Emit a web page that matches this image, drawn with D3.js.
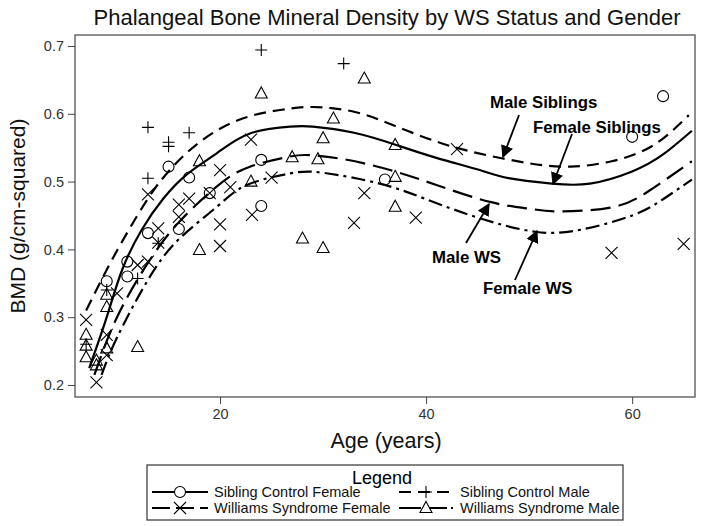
<!DOCTYPE html>
<html><head><meta charset="utf-8">
<script src="https://cdn.jsdelivr.net/npm/d3@7"></script>
<style>body{margin:0;background:#fff}svg{display:block;font-family:"Liberation Sans",Arial,sans-serif}</style>
</head><body><svg id="c" width="704" height="526"></svg>
<script>
// ---- data ----
const sibFemaleAge = [9,11,11,13,15,16,17,19,24,24,36,60,63];
const sibFemaleBMD = [0.353,0.382,0.36,0.424,0.522,0.43,0.506,0.483,0.532,0.464,0.503,0.566,0.626];
const sibMaleAge = [7,9,12,13,13,14,15,15,17,24,32];
const sibMaleBMD = [0.26,0.34,0.357,0.505,0.58,0.409,0.558,0.552,0.572,0.694,0.674];
const wsFemaleAge = [7,8,9,9,10,12,13,13,14,14,16,16,17,19,20,20,20,21,23,23.1,25,33,34,39,43,58,65];
const wsFemaleBMD = [0.296,0.204,0.274,0.244,0.335,0.377,0.481,0.382,0.431,0.41,0.466,0.448,0.475,0.483,0.517,0.437,0.405,0.492,0.562,0.451,0.506,0.439,0.483,0.447,0.548,0.395,0.408];
const wsMaleAge = [7,7,7,8,8,9,9,9,12,18,18,23,24,27,28,29.5,30,30,31,34,37,37,37];
const wsMaleBMD = [0.274,0.258,0.241,0.236,0.229,0.333,0.315,0.254,0.256,0.53,0.399,0.5,0.63,0.536,0.416,0.533,0.564,0.402,0.593,0.652,0.554,0.507,0.463];

// fitted curves
const fitMaleSibAge = [7,9,11,13,15,18,22,26,29,33,37,41,45,50,54,58,62,65.5];
const fitMaleSibBMD = [0.31,0.37,0.425,0.475,0.515,0.558,0.592,0.606,0.61,0.603,0.582,0.559,0.542,0.527,0.522,0.53,0.553,0.598];
const fitFemaleSibAge = [7.3,9,10.5,12.4,14.5,16.9,19.7,22.9,26.8,29,33,37.1,41,45.2,48,52.2,55.9,60,63,65.8];
const fitFemaleSibBMD = [0.225,0.3,0.37,0.429,0.475,0.512,0.542,0.571,0.581,0.581,0.572,0.554,0.535,0.517,0.505,0.497,0.497,0.515,0.54,0.575];
const fitMaleWSAge = [7.8,10,13,16,19.7,22.9,26.8,28.7,32,36.5,41,46.2,50,53,58,61.5,65.8];
const fitMaleWSBMD = [0.215,0.3,0.38,0.44,0.493,0.522,0.537,0.539,0.533,0.517,0.495,0.47,0.46,0.456,0.462,0.485,0.53];
const fitFemaleWSAge = [8.5,10,13,16,19.7,22.6,26.8,30,35.5,40,45.2,50.6,55,60,63,65.8];
const fitFemaleWSBMD = [0.215,0.27,0.355,0.415,0.463,0.495,0.512,0.513,0.497,0.474,0.446,0.426,0.429,0.45,0.474,0.503];

const xTicks = [20,40,60];
const yTicks = [0.2,0.3,0.4,0.5,0.6,0.7];
const legendLabels = ["Sibling Control Female","Sibling Control Male","Williams Syndrome Female","Williams Syndrome Male"];
const annotations = ["Male Siblings","Female Siblings","Male WS","Female WS"];

// ---- drawing ----
const svg = d3.select("#c");
const L=75,R=695,T=35,B=397;
const x = d3.scaleLinear().domain([5.92,66.1]).range([L,R]);
const y = d3.scaleLinear().domain([0.1823,0.7162]).range([B,T]);

svg.append("text").attr("x",387).attr("y",25).attr("text-anchor","middle")
  .attr("font-size",22).attr("fill","#111").text("Phalangeal Bone Mineral Density by WS Status and Gender");

svg.append("rect").attr("x",L).attr("y",T).attr("width",R-L).attr("height",B-T)
  .attr("fill","none").attr("stroke","#444").attr("stroke-width",1.2);

const xa = svg.append("g").attr("transform",`translate(0,${B})`)
  .call(d3.axisBottom(x).tickValues(xTicks).tickSize(7).tickPadding(5).tickFormat(d3.format("d")));
const ya = svg.append("g").attr("transform",`translate(${L},0)`)
  .call(d3.axisLeft(y).tickValues(yTicks).tickSize(7).tickPadding(4).tickFormat(d3.format(".1f")));
[xa,ya].forEach(a=>{a.select(".domain").remove();
  a.selectAll("line").attr("stroke","#444");
  a.selectAll("text").attr("font-size",14.5).attr("fill","#333").attr("font-family","'Liberation Sans',Arial,sans-serif");});

svg.append("text").attr("x",386).attr("y",448).attr("text-anchor","middle").attr("font-size",21.5).attr("fill","#111").text("Age (years)");
svg.append("text").attr("transform","translate(25,216) rotate(-90)").attr("text-anchor","middle").attr("font-size",21).attr("fill","#111").text("BMD (g/cm-squared)");

const clip = svg.append("clipPath").attr("id","pc").append("rect").attr("x",L).attr("y",T).attr("width",R-L).attr("height",B-T);
const plot = svg.append("g").attr("clip-path","url(#pc)");

const line = d3.line().x(d=>x(d[0])).y(d=>y(d[1])).curve(d3.curveNatural);
const fits = [
  {a:fitFemaleSibAge,b:fitFemaleSibBMD,dash:null},
  {a:fitMaleSibAge,b:fitMaleSibBMD,dash:"12,7"},
  {a:fitFemaleWSAge,b:fitFemaleWSBMD,dash:"14,5,3,5"},
  {a:fitMaleWSAge,b:fitMaleWSBMD,dash:"20,8"}
];
fits.forEach(f=>{
  plot.append("path").datum(d3.zip(f.a,f.b)).attr("d",line).attr("fill","none")
    .attr("stroke","#000").attr("stroke-width",2.2).attr("stroke-dasharray",f.dash);
});

function marker(g,type,cx,cy){
  const s=6;
  if(type==="circle") g.append("circle").attr("cx",cx).attr("cy",cy).attr("r",5.5);
  else if(type==="plus") g.append("path").attr("d",`M${cx-s},${cy}H${cx+s}M${cx},${cy-s}V${cy+s}`);
  else if(type==="x") g.append("path").attr("d",`M${cx-s},${cy-s}L${cx+s},${cy+s}M${cx-s},${cy+s}L${cx+s},${cy-s}`);
  else g.append("path").attr("d",`M${cx},${cy-6.5}L${cx+6},${cy+4.5}L${cx-6},${cy+4.5}Z`);
}
const groups=[[sibFemaleAge,sibFemaleBMD,"circle"],[sibMaleAge,sibMaleBMD,"plus"],[wsFemaleAge,wsFemaleBMD,"x"],[wsMaleAge,wsMaleBMD,"tri"]];
const mg = plot.append("g").attr("fill","none").attr("stroke","#000").attr("stroke-width",1.1);
groups.forEach(([a,b,t])=>a.forEach((v,i)=>marker(mg,t,x(v),y(b[i]))));

// annotations
const ann = svg.append("g").attr("font-size",16.8).attr("font-weight","bold").attr("fill","#000");
const annPos=[[490,108],[533,133],[432,263],[483,294]];
annotations.forEach((t,i)=>ann.append("text").attr("x",annPos[i][0]).attr("y",annPos[i][1]).text(t));
svg.append("defs").append("marker").attr("id","ah").attr("viewBox","0 0 10 10").attr("refX",9).attr("refY",5)
  .attr("markerWidth",7).attr("markerHeight",7).attr("orient","auto")
  .append("path").attr("d","M0,0L10,5L0,10Z").attr("fill","#000");
const arrows=[[519,115,503,157],[572,134,553,184],[466,243,489,204],[515,280,537,231]];
arrows.forEach(a=>svg.append("line").attr("x1",a[0]).attr("y1",a[1]).attr("x2",a[2]).attr("y2",a[3])
  .attr("stroke","#000").attr("stroke-width",1.8).attr("marker-end","url(#ah)"));

// legend
const lg = svg.append("g");
lg.append("rect").attr("x",147).attr("y",465).attr("width",476).attr("height",55).attr("fill","none").attr("stroke","#333").attr("stroke-width",1.2);
lg.append("text").attr("x",382).attr("y",484).attr("text-anchor","middle").attr("font-size",18).text("Legend");
const lpos=[[152,208,214,492],[399,453,460,492],[152,208,214,508],[399,453,460,508]];
const ldash=[null,"12,7","18,6","22,4"];
const ltype=["circle","plus","x","tri"];
legendLabels.forEach((t,i)=>{
  const p=lpos[i];
  lg.append("line").attr("x1",p[0]).attr("x2",p[1]).attr("y1",p[3]).attr("y2",p[3]).attr("stroke","#000").attr("stroke-width",2).attr("stroke-dasharray",ldash[i]);
  const g=lg.append("g").attr("fill","#fff").attr("stroke","#000").attr("stroke-width",1.1);
  marker(g,ltype[i],(p[0]+p[1])/2,p[3]);
  lg.append("text").attr("x",p[2]).attr("y",p[3]+5).attr("font-size",14.5).attr("fill","#111").text(t);
});
</script></body></html>
